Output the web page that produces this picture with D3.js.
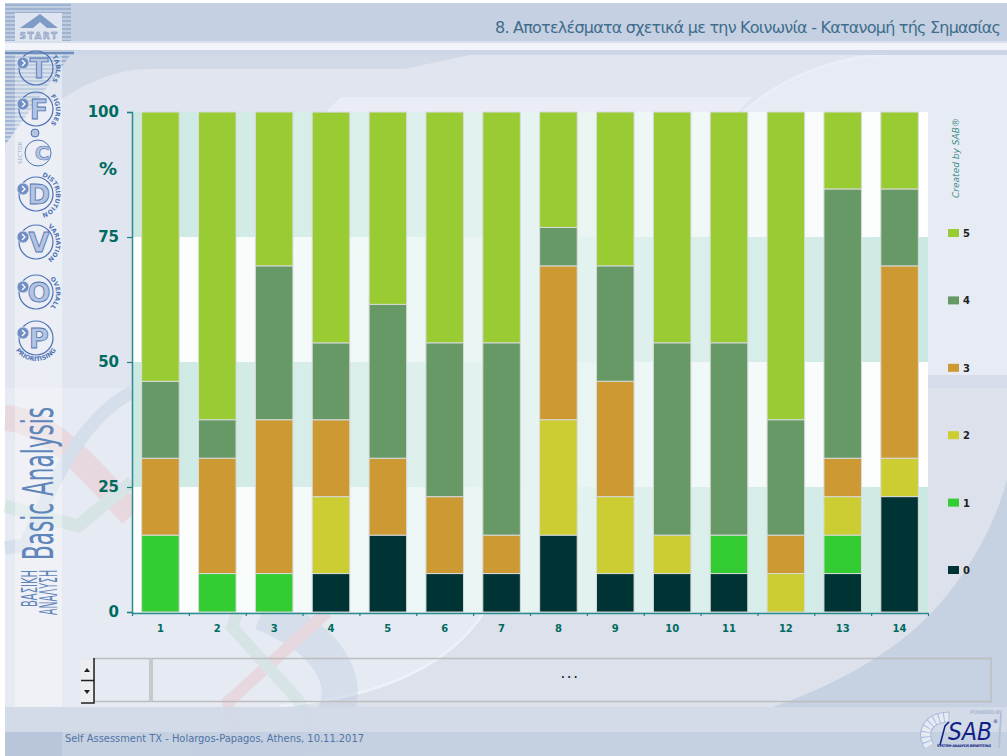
<!DOCTYPE html>
<html>
<head>
<meta charset="utf-8">
<script src="https://cdn.jsdelivr.net/npm/d3@7/dist/d3.min.js"></script>
<style>
  html, body { margin: 0; padding: 0; background: #fff; overflow: hidden; }
  text { font-family: "DejaVu Sans", sans-serif; }
</style>
</head>
<body>
<div id="chart"></div>
<script>
const title = '8. Αποτελέσματα σχετικά με την Κοινωνία - Κατανομή τής Σημασίας';
const footer = 'Self Assessment TX - Holargos-Papagos, Athens, 10.11.2017';

// Questions on the x axis, answers in the stack, as percent of the 13 replies
const questions = ['1', '2', '3', '4', '5', '6', '7', '8', '9', '10', '11', '12', '13', '14'];
const levels = ['0', '1', '2', '3', '4', '5'];
const level0 = [0, 0, 0, 7.69, 15.38, 7.69, 7.69, 15.38, 7.69, 7.69, 7.69, 0, 7.69, 23.08];
const level1 = [15.38, 7.69, 7.69, 0, 0, 0, 0, 0, 0, 0, 7.69, 0, 7.69, 0];
const level2 = [0, 0, 0, 15.38, 0, 0, 0, 23.08, 15.38, 7.69, 0, 7.69, 7.69, 7.69];
const level3 = [15.38, 23.08, 30.77, 15.38, 15.38, 15.38, 7.69, 30.77, 23.08, 0, 0, 7.69, 7.69, 38.46];
const level4 = [15.38, 7.69, 30.77, 15.38, 30.77, 30.77, 38.46, 7.69, 23.08, 38.46, 38.46, 23.08, 53.85, 15.38];
const level5 = [53.85, 61.54, 30.77, 46.15, 38.46, 46.15, 46.15, 23.08, 30.77, 46.15, 46.15, 61.54, 15.38, 15.38];
const levelColors = ['#003333', '#33cc33', '#cccc33', '#cc9933', '#669966', '#99cc33'];
const yTicks = [0, 25, 50, 75, 100];
const menuIcons = [
  { letter: 'T', label: 'TABLES', y: 68 },
  { letter: 'F', label: 'FIGURES', y: 109 },
  { letter: 'D', label: 'DISTRIBUTION', y: 194 },
  { letter: 'V', label: 'VARIATION', y: 242 },
  { letter: 'O', label: 'OVERALL', y: 292 },
  { letter: 'P', label: 'PRIORITISING', y: 338 }
];

const width = 1007, height = 756;
const plot = { left: 132, right: 928, top: 112, bottom: 612 };
const labelFont = '"Noto Sans", sans-serif';
const narrowFont = '"Liberation Sans Narrow", "Liberation Sans", sans-serif';

const svg = d3.select('#chart').append('svg')
  .attr('width', width)
  .attr('height', height)
  .style('display', 'block');
const defs = svg.append('defs');

// Plot stripes fade from teal to white and back
function addGradient(id, from, to) {
  const g = defs.append('linearGradient').attr('id', id);
  g.append('stop').attr('offset', '0%').attr('stop-color', from);
  g.append('stop').attr('offset', '100%').attr('stop-color', to);
}
addGradient('tealToWhite', '#cce8e3', '#ffffff');
addGradient('whiteToTeal', '#ffffff', '#cce8e3');

const stripes = defs.append('pattern').attr('id', 'stripes')
  .attr('width', 4).attr('height', 4).attr('patternUnits', 'userSpaceOnUse');
stripes.append('rect').attr('width', 4).attr('height', 2).attr('fill', '#6f8fbf');
stripes.append('rect').attr('y', 2).attr('width', 4).attr('height', 2).attr('fill', '#b9c7dd');

// --- page background ---
const bg = svg.append('g');
const area = (x, y, w, h, fill, opacity) => bg.append('rect')
  .attr('x', x).attr('y', y).attr('width', w).attr('height', h)
  .attr('fill', fill).attr('opacity', opacity === undefined ? 1 : opacity);
const shape = (d, fill) => bg.append('path').attr('d', d).attr('fill', fill);

area(5, 3, width, height, '#e6eaf3');
// band above the plot and the plot's left and right sides
area(5, 50, width, 62, '#d2dae8');
area(5, 112, 127, 276, '#e0e5ef');
area(928, 112, 79, 263, '#e7ebf4');
area(928, 375, 79, 13, '#d6dce9');
area(928, 388, 79, 320, '#dce1ec');
shape('M5 150 L5 112 L60 100 C90 80 120 69 150 69 H404 L470 55 H900 V112 H132 V150 Z', '#e0e5ef');
shape('M743 112 C790 70 850 55 888 55 H1007 V112 Z', '#e7ebf4');
shape('M326 112 L341 97 H752 L738 112 Z', '#eaedf6');
bg.append('path').attr('d', 'M743 112 C790 70 850 55 888 55').attr('fill', 'none')
  .attr('stroke', '#ebeef6').attr('stroke-width', 2.5);

// below the plot: swoosh and the darker lower right corner
shape('M484 612 H928 V708 H280 C350 700 440 680 484 612 Z', '#dce1ec');
shape('M1007 480 C985 560 930 625 880 655 C850 675 820 690 770 708 H1007 Z', '#c6d1e2');
bg.append('path').attr('d', 'M484 612 C440 680 350 700 280 706').attr('fill', 'none')
  .attr('stroke', '#eef1f8').attr('stroke-width', 2.5);

// pale curves behind the left of the chart
const curves = bg.append('g').attr('fill', 'none').attr('opacity', 0.32);
curves.append('path').attr('stroke', '#e8b4b4').attr('stroke-width', 26).attr('d', 'M5 418 C50 420 90 470 132 515');
curves.append('path').attr('stroke', '#b4c5dd').attr('stroke-width', 13).attr('d', 'M5 548 L25 545 C55 480 80 420 132 392');
curves.append('path').attr('stroke', '#b9d8cc').attr('stroke-width', 13).attr('d', 'M5 506 L78 526 L132 482');
curves.append('path').attr('stroke', '#b4c5dd').attr('stroke-width', 36).attr('d', 'M262 612 C330 640 350 680 335 715 C320 740 260 750 190 756');
curves.append('path').attr('stroke', '#e8b4b4').attr('stroke-width', 12).attr('d', 'M327 612 L228 702 L238 756');
curves.append('path').attr('stroke', '#b9d8cc').attr('stroke-width', 12).attr('d', 'M238 612 L232 627 L298 700 L325 756');

// footer bands
area(5, 707, width, 25, '#d2d9e7', 0.92);
area(5, 732, width, 24, '#c2cde0', 0.92);
area(5, 732, 57, 24, '#b8c5da');

// sidebar column and the striped corner behind it
bg.append('path').attr('d', 'M5 145 L5 50 H74 Z').attr('fill', 'url(#stripes)').attr('opacity', 0.55);
area(15, 50, 47, 657, '#ffffff', 0.36);

// header
area(5, 3, width, 38, '#c5d0e2');
area(5, 3, 66, 38, 'url(#stripes)', 0.45);
area(5, 41, width, 2, '#d9dfeb');
area(5, 43, width, 7, '#f3f4fa');
area(5, 50, width, 5, '#cdd6e6');
area(5, 50, 69, 5, 'url(#stripes)');

// --- navigation icons ---
const start = svg.append('g');
start.append('rect').attr('x', 15).attr('y', 13).attr('width', 47).attr('height', 28).attr('fill', '#dfe5f0');
start.append('path').attr('d', 'M40 14 L58 28 H47 L40 22 L33 28 H20 Z').attr('fill', '#7f9cc6');
start.append('text').attr('x', 39).attr('y', 39).attr('text-anchor', 'middle')
  .attr('font-size', 9).attr('font-weight', 'bold').attr('letter-spacing', 1.5)
  .attr('fill', '#b9c7dd').attr('stroke', '#6f88ad').attr('stroke-width', 0.4).text('START');

const iconColor = '#4f74b5';
menuIcons.forEach((d, i) => {
  const g = svg.append('g').attr('transform', `translate(36,${d.y})`);
  g.append('circle').attr('r', 17).attr('fill', 'none')
    .attr('stroke', iconColor).attr('stroke-width', 1.2);
  g.append('text').attr('x', 3).attr('y', 10).attr('text-anchor', 'middle')
    .attr('font-size', 27).attr('font-weight', 'bold')
    .attr('fill', '#b3c3e0').attr('stroke', iconColor).attr('stroke-width', 0.8).text(d.letter);
  g.append('circle').attr('cx', -13).attr('cy', -5).attr('r', 6)
    .attr('fill', '#6f8fc4').attr('stroke', '#dfe5f0').attr('stroke-width', 0.8);
  g.append('path').attr('d', 'M-14 -8 L-11 -5 L-14 -2').attr('fill', 'none').attr('stroke', '#fff').attr('stroke-width', 1.3);
  defs.append('path').attr('id', 'iconArc' + i)
    .attr('d', d.letter === 'P' ? 'M-23 6 A24 24 0 0 0 23 6' : 'M2 -18 A18 19 0 0 1 2 20');
  g.append('text').attr('font-size', 6.2).attr('font-weight', 'bold')
    .attr('text-anchor', 'middle')
    .attr('fill', iconColor)
    .append('textPath').attr('href', '#iconArc' + i).attr('startOffset', '50%').text(d.label);
});

// sector icon has no arrow and a smaller ring
const sector = svg.append('g').attr('transform', 'translate(38,153)');
sector.append('circle').attr('r', 13).attr('fill', 'none').attr('stroke', iconColor).attr('stroke-width', 1);
sector.append('text').attr('x', 4).attr('y', 7).attr('text-anchor', 'middle')
  .attr('font-size', 20).attr('font-weight', 'bold').attr('fill', '#b3c3e0')
  .attr('stroke', iconColor).attr('stroke-width', 0.6).text('C');
sector.append('circle').attr('cx', -3).attr('cy', -20).attr('r', 4)
  .attr('fill', '#b3c3e0').attr('stroke', iconColor);
sector.append('text').attr('transform', 'translate(-16,11) rotate(-90)')
  .attr('font-size', 5.5).attr('fill', '#9fb2d0').text('SECTOR');

// --- vertical section title ---
const sideTitle = (text, x, y, size, length) => svg.append('text')
  .attr('transform', `translate(${x},${y}) rotate(-90)`)
  .attr('font-family', narrowFont)
  .attr('font-size', size)
  .attr('textLength', length)
  .attr('lengthAdjust', 'spacingAndGlyphs')
  .attr('fill', '#5f86ba')
  .text(text);
sideTitle('Basic Analysis', 53, 560, 43, 153);
sideTitle('ΒΑΣΙΚΗ', 37, 607, 21, 37);
sideTitle('ΑΝΑΛΥΣΗ', 57, 615, 24, 45);

svg.append('text').attr('x', 495).attr('y', 33)
  .attr('font-family', labelFont)
  .attr('font-size', 16).attr('textLength', 506)
  .attr('fill', '#3f6d8c').text(title);

// --- chart ---
const x = d3.scaleBand().domain(questions).range([plot.left, plot.right])
  .paddingInner(0.34).paddingOuter(0.17);
const xEdges = d3.scaleLinear().domain([0, questions.length]).range([plot.left, plot.right]);
const y = d3.scaleLinear().domain([0, 100]).range([plot.bottom, plot.top]);

// plot stripes, one per gap between the y ticks
svg.append('g').selectAll('rect')
  .data(d3.pairs(yTicks))
  .join('rect')
  .attr('x', plot.left)
  .attr('y', d => y(d[1]))
  .attr('width', plot.right - plot.left)
  .attr('height', d => y(d[0]) - y(d[1]))
  .attr('fill', (d, i) => i % 2 === 0 ? 'url(#whiteToTeal)' : 'url(#tealToWhite)');

const table = questions.map((q, i) => {
  const row = { question: q };
  [level0, level1, level2, level3, level4, level5].forEach((s, k) => { row[levels[k]] = s[i]; });
  return row;
});
const series = d3.stack().keys(levels)(table);

svg.append('g').selectAll('g')
  .data(series)
  .join('g')
  .attr('fill', (d, i) => levelColors[i])
  .selectAll('rect')
  .data(d => d.filter(p => p[1] > p[0]))
  .join('rect')
  .attr('x', d => x(d.data.question))
  .attr('y', d => y(d[1]))
  .attr('width', x.bandwidth())
  .attr('height', d => y(d[0]) - y(d[1]))
  .attr('stroke', '#d8dada')
  .attr('stroke-width', 1);

// y axis
const yAxis = svg.append('g').attr('transform', `translate(${plot.left},0)`)
  .call(d3.axisLeft(y).tickValues(yTicks).tickSize(5).tickPadding(8));
yAxis.selectAll('text').attr('font-size', 15).attr('font-weight', 'bold').attr('fill', '#006b5f')
  .attr('font-family', labelFont);

svg.append('text').attr('x', 108).attr('y', 175).attr('text-anchor', 'middle')
  .attr('font-family', labelFont)
  .attr('font-size', 18).attr('font-weight', 'bold').attr('fill', '#006b5f').text('%');

// x axis, labels centred on the bars, ticks on the band edges
const xAxis = svg.append('g').attr('transform', `translate(0,${plot.bottom + 1})`)
  .call(d3.axisBottom(x).tickSize(0).tickPadding(12));
xAxis.selectAll('text').attr('font-size', 10).attr('font-weight', 'bold').attr('fill', '#006b5f')
  .attr('font-family', labelFont);
xAxis.select('.domain').remove();
const xTicks = svg.append('g').attr('transform', `translate(0,${plot.bottom + 1})`)
  .call(d3.axisBottom(xEdges).tickValues(d3.range(questions.length + 1)).tickFormat('').tickSize(3).tickSizeOuter(0));

[yAxis, xTicks].forEach(a => {
  a.select('.domain').attr('stroke', '#2a8c8c').attr('stroke-width', 1.5);
  a.selectAll('.tick line').attr('stroke', '#1f8080').attr('stroke-width', 1.2);
});

// credit and legend
svg.append('text').attr('transform', 'translate(959,198) rotate(-90)')
  .attr('font-size', 9).attr('font-style', 'italic').attr('textLength', 80)
  .attr('fill', '#3f8f83').text('Created by SAB®');

const legendY = d3.scalePoint().domain(levels).range([570, 233]);
const legend = svg.append('g').selectAll('g')
  .data(levels)
  .join('g')
  .attr('transform', d => `translate(948,${legendY(d)})`);
legend.append('rect').attr('y', -4).attr('width', 11).attr('height', 8)
  .attr('fill', (d, i) => levelColors[i]);
legend.append('text').attr('x', 15).attr('y', 4).attr('font-size', 10).attr('font-weight', 'bold')
  .attr('fill', '#222').text(d => d);

// --- scroll box below the chart ---
const box = svg.append('g');
box.append('rect').attr('x', 94).attr('y', 658.5).attr('width', 56).attr('height', 43)
  .attr('fill', 'none').attr('stroke', '#bdbdbd').attr('stroke-width', 1.5);
box.append('rect').attr('x', 152).attr('y', 658.5).attr('width', 839).attr('height', 43)
  .attr('fill', 'none').attr('stroke', '#bdbdbd').attr('stroke-width', 1.5);
[[660, 'M84 672 L90 672 L87 668 Z'], [682, 'M84 690 L90 690 L87 694 Z']].forEach(b => {
  box.append('rect').attr('x', 81).attr('y', b[0]).attr('width', 13).attr('height', 20).attr('fill', '#eceef0');
  box.append('path').attr('d', b[1]).attr('fill', '#222');
});
box.append('path').attr('d', 'M94 658 V703 H81').attr('fill', 'none').attr('stroke', '#222').attr('stroke-width', 1.5);
box.append('path').attr('d', 'M94 680.5 H81').attr('fill', 'none').attr('stroke', '#222').attr('stroke-width', 1.5);
box.append('text').attr('x', 570).attr('y', 678).attr('text-anchor', 'middle')
  .attr('font-size', 15).attr('letter-spacing', 1.5).attr('fill', '#222').text('...');

svg.append('text').attr('x', 65).attr('y', 742).attr('font-size', 10.4)
  .attr('textLength', 299).attr('lengthAdjust', 'spacingAndGlyphs')
  .attr('fill', '#4f74a5').text(footer);

// --- SAB logo ---
const logo = svg.append('g');
logo.append('path').attr('d', 'M929 746 C920 730 930 717 950 717').attr('fill', 'none')
  .attr('stroke', '#a9bbdc').attr('stroke-width', 11);
logo.append('path').attr('d', 'M929 746 C920 730 930 717 950 717').attr('fill', 'none')
  .attr('stroke', '#e6eaf3').attr('stroke-width', 9).attr('stroke-dasharray', '4 1');
logo.append('path').attr('d', 'M940 745 L945 726 L949 722').attr('fill', 'none').attr('stroke', '#101f86').attr('stroke-width', 1.5);
logo.append('path').attr('d', 'M1001 713 L999 748').attr('fill', 'none').attr('stroke', '#b3c1d8').attr('stroke-width', 2);
logo.append('text').attr('x', 970).attr('y', 714).attr('font-size', 5).attr('font-weight', 'bold')
  .attr('textLength', 32).attr('fill', '#aebcd3').text('POWERED BY');
logo.append('text').attr('x', 948).attr('y', 740)
  .attr('font-family', '"Liberation Sans", sans-serif').attr('font-style', 'italic').attr('font-size', 25)
  .attr('textLength', 44).attr('lengthAdjust', 'spacingAndGlyphs').attr('fill', '#101f86').text('SAB');
logo.append('text').attr('x', 993).attr('y', 723).attr('font-size', 5).attr('fill', '#101f86').text('®');
logo.append('text').attr('x', 937).attr('y', 747).attr('font-size', 3.5).attr('font-weight', 'bold')
  .attr('textLength', 54).attr('fill', '#101f86').text('SYSTEM ANALYSIS BENEFITING');
</script>
</body>
</html>
